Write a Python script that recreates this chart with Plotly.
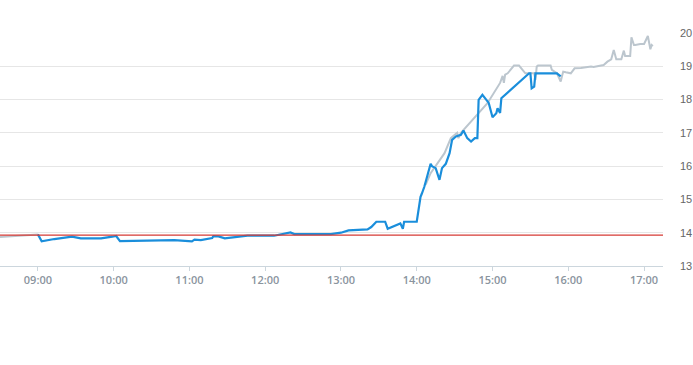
import plotly.graph_objects as go

DAY = "2024-01-02 "

# Blue series (main session)
blue_times = ["09:00", "09:03", "09:13", "09:27", "09:34", "09:50", "09:59", "10:02", "10:05", "10:29",
              "10:48", "11:02", "11:04", "11:09", "11:18", "11:19", "11:23", "11:28", "11:35", "11:46",
              "12:07", "12:20", "12:23", "12:52", "13:00", "13:06", "13:21", "13:24", "13:28", "13:35",
              "13:37", "13:47", "13:49", "13:50", "14:00", "14:03", "14:04", "14:06", "14:11", "14:12",
              "14:15", "14:18", "14:20", "14:23", "14:26", "14:28", "14:31", "14:35", "14:37", "14:40",
              "14:43", "14:46", "14:48", "14:49", "14:52", "14:55", "14:57", "15:00", "15:03", "15:04",
              "15:06", "15:07", "15:29", "15:30", "15:31", "15:33", "15:34", "15:51", "15:54"]
blue_values = [13.95, 13.74, 13.81, 13.88, 13.83, 13.83, 13.88, 13.90, 13.75, 13.77,
               13.78, 13.74, 13.79, 13.78, 13.84, 13.90, 13.89, 13.83, 13.86, 13.91,
               13.91, 14.01, 13.96, 13.96, 14.00, 14.07, 14.10, 14.17, 14.33, 14.33,
               14.12, 14.28, 14.12, 14.33, 14.33, 15.08, 15.17, 15.38, 16.07, 16.00,
               15.94, 15.59, 15.94, 16.07, 16.39, 16.79, 16.89, 16.94, 17.07, 16.84,
               16.74, 16.84, 16.84, 17.99, 18.14, 17.99, 17.90, 17.47, 17.59, 17.74,
               17.60, 18.04, 18.79, 18.79, 18.34, 18.39, 18.79, 18.79, 18.70]

# Grey series (extended / reference)
grey_times = ["08:30", "09:00", None, "14:07", "14:11", "14:22", "14:27", "14:32", "14:33", "14:35",
              "14:56", "15:06", "15:08", "15:09", "15:10", "15:12", "15:14", "15:17", "15:21", "15:24",
              "15:26", "15:33", "15:34", "15:35", "15:36", "15:46", "15:47", "15:51", "15:54", "15:55",
              "15:56", "15:58", "16:02", "16:05", "16:10", "16:18", "16:20", "16:28", "16:31", "16:34",
              "16:36", "16:38", "16:42", "16:44", "16:45", "16:49", "16:50", "16:52", "16:53", "16:57",
              "17:00", "17:03", "17:04", "17:05", "17:06", "17:07"]
grey_values = [13.87, 13.95, None, 15.44, 15.79, 16.39, 16.84, 17.00, 16.84, 17.00,
               17.89, 18.50, 18.71, 18.50, 18.75, 18.79, 18.89, 19.02, 19.02, 18.89,
               18.79, 18.79, 18.59, 18.99, 19.02, 19.02, 18.89, 18.79, 18.54, 18.70,
               18.84, 18.82, 18.79, 18.94, 18.95, 18.99, 18.98, 19.04, 19.14, 19.21,
               19.49, 19.21, 19.21, 19.47, 19.31, 19.31, 19.87, 19.64, 19.64, 19.67,
               19.67, 19.91, 19.64, 19.51, 19.64, 19.61]

ref_level = 13.93

x_ticks = ["09:00", "10:00", "11:00", "12:00", "13:00", "14:00", "15:00", "16:00", "17:00"]
y_ticks = [13, 14, 15, 16, 17, 18, 19, 20]
y_labels = ["13", "14", "15", "16", "17", "18", "19", "20"]


def ts(t):
    return None if t is None else DAY + t


fig = go.Figure()
fig.add_trace(go.Scatter(x=[ts(t) for t in grey_times], y=grey_values, mode="lines",
                         line=dict(color="#bcc6ce", width=2), connectgaps=False,
                         hoverinfo="skip", showlegend=False))
fig.add_trace(go.Scatter(x=[ts(t) for t in blue_times], y=blue_values, mode="lines",
                         line=dict(color="#1a8edb", width=2.2),
                         hoverinfo="skip", showlegend=False))
fig.add_hline(y=ref_level, line=dict(color="#d63a35", width=1.2))

fig.update_layout(
    width=693, height=365,
    margin=dict(l=0, r=30, t=33, b=99),
    paper_bgcolor="white", plot_bgcolor="white",
    font=dict(family="Liberation Sans, Arial, sans-serif"),
    xaxis=dict(
        type="date", automargin=False,
        range=[DAY + "08:30", DAY + "17:15"],
        tickvals=[DAY + t for t in x_ticks], ticktext=x_ticks,
        showgrid=False, showline=True, linecolor="#ccd6dd", linewidth=1,
        ticks="outside", ticklen=4, tickcolor="#ccd6dd",
        tickfont=dict(size=11, color="#8a949e", family="Open Sans, sans-serif", weight=600),
        zeroline=False, fixedrange=True,
    ),
    yaxis=dict(
        side="right", range=[13, 20], automargin=False,
        tickvals=y_ticks, ticktext=y_labels,
        showgrid=True, gridcolor="#e6e6e6", gridwidth=1,
        ticks="", ticklabelstandoff=16,
        tickfont=dict(size=11, color="#666666"),
        zeroline=False, showline=False, fixedrange=True,
    ),
)

fig.write_html("out.html")
